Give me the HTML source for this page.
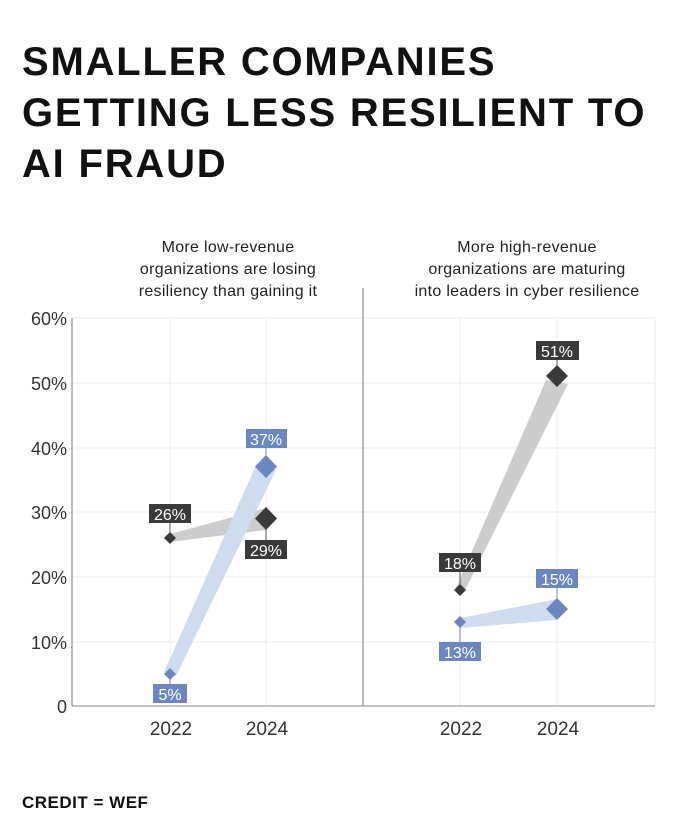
<!DOCTYPE html>
<html><head><meta charset="utf-8"><style>
body{margin:0;background:#fff;}
svg{display:block;font-family:"Liberation Sans",sans-serif;}
</style></head><body>
<svg width="696" height="831" viewBox="0 0 696 831">
<g font-weight="bold" font-size="40" fill="#111" letter-spacing="1.8">
<text x="22" y="75">SMALLER COMPANIES</text>
<text x="22" y="126">GETTING LESS RESILIENT TO</text>
<text x="22" y="177">AI FRAUD</text>
</g>
<g font-size="16" fill="#222" text-anchor="middle" letter-spacing="0.3">
<text x="228" y="252">More low-revenue</text>
<text x="228" y="274">organizations are losing</text>
<text x="228" y="296">resiliency than gaining it</text>
<text x="527" y="252">More high-revenue</text>
<text x="527" y="274">organizations are maturing</text>
<text x="527" y="296">into leaders in cyber resilience</text>
</g>
<g stroke="#ebebeb" stroke-width="1">
<line x1="72" y1="318" x2="655" y2="318"/>
<line x1="72" y1="383" x2="655" y2="383"/>
<line x1="72" y1="448" x2="655" y2="448"/>
<line x1="72" y1="512" x2="655" y2="512"/>
<line x1="72" y1="577" x2="655" y2="577"/>
<line x1="72" y1="642" x2="655" y2="642"/>
<line x1="170" y1="318" x2="170" y2="706"/>
<line x1="266" y1="318" x2="266" y2="706"/>
<line x1="460" y1="318" x2="460" y2="706"/>
<line x1="557" y1="318" x2="557" y2="706"/>
<line x1="655" y1="318" x2="655" y2="706"/>
</g>
<line x1="72" y1="318" x2="72" y2="706" stroke="#777"/>
<line x1="72" y1="706" x2="655" y2="706" stroke="#888"/>
<line x1="363" y1="288" x2="363" y2="706" stroke="#777"/>
<g font-size="18" fill="#333" text-anchor="end">
<text x="67" y="325">60%</text><text x="67" y="390">50%</text><text x="67" y="455">40%</text>
<text x="67" y="519">30%</text><text x="67" y="584">20%</text><text x="67" y="649">10%</text>
<text x="67" y="713">0</text>
</g>
<g font-size="19" fill="#333" text-anchor="middle">
<text x="171" y="735">2022</text><text x="267" y="735">2024</text>
<text x="461" y="735">2022</text><text x="558" y="735">2024</text>
</g>
<polygon points="170,534 266,508 266,530 170,542" fill="#cccccc"/>
<polygon points="164,672 257,463 276,470 176,676" fill="#cfdcf0"/>
<polygon points="456,588 546,380 568,384 464,592" fill="#cccccc"/>
<polygon points="460,618 557,599 557,620 460,628" fill="#cfdcf0"/>
<g stroke="#555" stroke-width="1">
<line x1="170" y1="523" x2="170" y2="538"/>
<line x1="266" y1="518" x2="266" y2="540"/>
<line x1="460" y1="572" x2="460" y2="590"/>
<line x1="557" y1="360" x2="557" y2="376"/>
</g>
<g stroke="#6a87c2" stroke-width="1">
<line x1="266" y1="448" x2="266" y2="467"/>
<line x1="170" y1="674" x2="170" y2="684"/>
<line x1="557" y1="588" x2="557" y2="609"/>
<line x1="460" y1="622" x2="460" y2="642"/>
</g>
<g fill="#3a3a3a">
<polygon points="170,532 176,538 170,544 164,538"/>
<polygon points="266,507 277,518.5 266,530 255,518.5"/>
<polygon points="460,584 466,590 460,596 454,590"/>
<polygon points="557,365 568,376 557,387 546,376"/>
</g>
<g fill="#6a87c2">
<polygon points="170,668 176,674 170,680 164,674"/>
<polygon points="266,455 277,466.7 266,478 255,466.7"/>
<polygon points="460,616 466,622 460,628 454,622"/>
<polygon points="557,598 568,609 557,620 546,609"/>
</g>
<g font-size="16" fill="#fff" text-anchor="middle">
<rect x="149" y="504" width="42" height="19" fill="#3a3a3a"/><text x="170" y="520">26%</text>
<rect x="245" y="540" width="42" height="19" fill="#3a3a3a"/><text x="266" y="556">29%</text>
<rect x="246" y="429" width="41" height="19" fill="#6a87c2"/><text x="266" y="445">37%</text>
<rect x="153" y="684" width="34" height="19" fill="#6a87c2"/><text x="170" y="700">5%</text>
<rect x="439" y="553" width="42" height="19" fill="#3a3a3a"/><text x="460" y="569">18%</text>
<rect x="536" y="341" width="43" height="19" fill="#3a3a3a"/><text x="557" y="357">51%</text>
<rect x="536" y="569" width="42" height="19" fill="#6a87c2"/><text x="557" y="585">15%</text>
<rect x="439" y="642" width="42" height="19" fill="#6a87c2"/><text x="460" y="658">13%</text>
</g>
<text x="22" y="808" font-size="17" font-weight="bold" fill="#111" letter-spacing="0.5">CREDIT = WEF</text>
</svg>
</body></html>
